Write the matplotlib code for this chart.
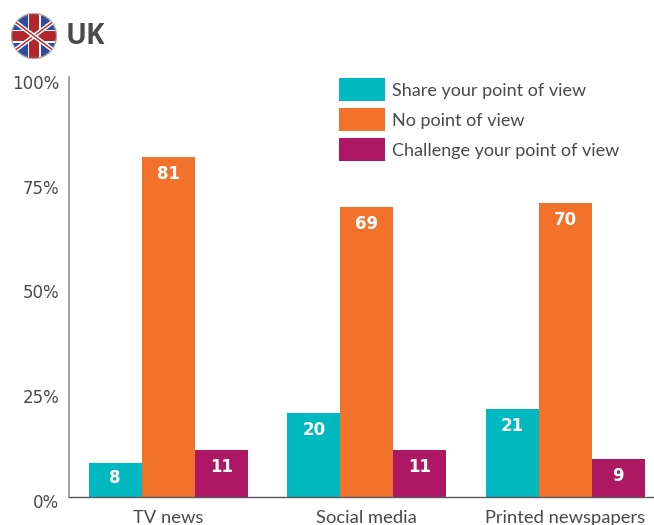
import matplotlib
matplotlib.use("Agg")
import matplotlib.pyplot as plt
import numpy as np
from matplotlib.patches import Circle, Rectangle

# data
categories = ["TV news", "Social media", "Printed newspapers"]
share = [8, 20, 21]
no_view = [81, 69, 70]
challenge = [11, 11, 9]
series_names = ["Share your point of view", "No point of view", "Challenge your point of view"]
colors = ["#00B8BF", "#F3722B", "#AE1763"]
y_ticks = [0, 25, 50, 75, 100]

W, H = 654, 525
GREY = "#4A4A4C"
plt.rcParams["font.family"] = ["Lato", "DejaVu Sans"]

fig = plt.figure(figsize=(W / 100, H / 100), dpi=100)

# axes placed in pixels
left, right, top, bottom = 69, 654, 77.5, 496.5
ax = fig.add_axes([left / W, 1 - bottom / H, (right - left) / W, (bottom - top) / H])

group_step = 198.5
bar_w = 53 / group_step
x = np.arange(len(categories))
ax.set_xlim((left - 168.2) / group_step, (right - 168.2) / group_step)
ax.set_ylim(0, 100)

for i, vals in enumerate([share, no_view, challenge]):
    bars = ax.bar(x + (i - 1) * bar_w, vals, width=bar_w, color=colors[i])
    for b, v in zip(bars, vals):
        offset = -17 if v > 8 else -15
        ax.annotate(str(v), (b.get_x() + b.get_width() / 2, v), xytext=(0, offset),
                    textcoords="offset pixels", ha="center", va="center",
                    color="white", fontweight="bold", fontsize=12,
                    family=["DejaVu Sans"])

for s in ["top", "right"]:
    ax.spines[s].set_visible(False)
ax.spines["left"].set_color("#909092")
ax.spines["left"].set_linewidth(1.2)
ax.spines["bottom"].set_color("#58585A")
ax.spines["bottom"].set_linewidth(1.0)

ax.set_xticks(x)
ax.set_xticklabels(categories, fontsize=13.2, color=GREY)
ax.tick_params(axis="x", length=0, pad=9.5)
ax.set_yticks(y_ticks)
ax.set_yticklabels([])
ax.tick_params(axis="y", length=0)
for t in y_ticks:
    ax.annotate(f"{t}%", (0, t), xycoords=("axes fraction", "data"), xytext=(-10, -6.5),
                textcoords="offset pixels", ha="right", va="center", color=GREY,
                fontsize=12, family=["DejaVu Sans"], annotation_clip=False)

# legend drawn by hand to get the block spacing
for name, col, ypx in zip(series_names, colors, [78, 108, 138]):
    fig.add_artist(Rectangle((339 / W, 1 - (ypx + 23) / H), 46 / W, 23 / H,
                             transform=fig.transFigure, color=col, lw=0))
    fig.text(392 / W, 1 - (ypx + 13) / H, name, color=GREY, fontsize=12.95,
             ha="left", va="center")

# title + round flag
fig.text(66 / W, 1 - 36.5 / H, "UK", color=GREY, fontsize=20, fontweight="bold",
         ha="left", va="center", family=["Open Sans", "DejaVu Sans"])

cx, cy, r = 34, 36, 22.5
fax = fig.add_axes([(cx - r - 1) / W, 1 - (cy + r + 1) / H, (2 * r + 2) / W, (2 * r + 2) / H])
fax.set_xlim(-r - 1, r + 1)
fax.set_ylim(-r - 1, r + 1)
fax.axis("off")
clip = Circle((0, 0), r, transform=fax.transData)
fax.add_patch(Circle((0, 0), r, color="#2F4A9E", lw=0))
flag_parts = []
for sgn in [1, -1]:
    flag_parts.append(fax.plot([-r, r], [-sgn * 0.75 * r, sgn * 0.75 * r], color="white", lw=3.2, solid_capstyle="butt")[0])
    flag_parts.append(fax.plot([-r, r], [-sgn * 0.75 * r, sgn * 0.75 * r], color="#B1272D", lw=1.0, solid_capstyle="butt")[0])
flag_parts.append(fax.add_patch(Rectangle((-r, -6.5), 2 * r, 13, color="white", lw=0)))
flag_parts.append(fax.add_patch(Rectangle((-6.5, -r), 13, 2 * r, color="white", lw=0)))
flag_parts.append(fax.add_patch(Rectangle((-r, -4.8), 2 * r, 9.6, color="#B1272D", lw=0)))
flag_parts.append(fax.add_patch(Rectangle((-4.8, -r), 9.6, 2 * r, color="#B1272D", lw=0)))
for p in flag_parts:
    p.set_clip_path(clip)
fax.add_patch(Circle((0, 0), r, fill=False, ec="#A5A5A8", lw=1))

fig.savefig("out.png", dpi=100)
